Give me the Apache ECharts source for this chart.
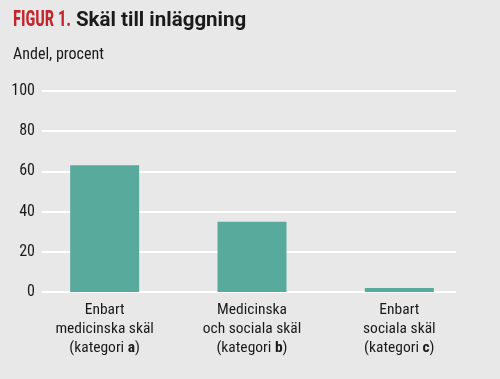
<!DOCTYPE html>
<html><head><meta charset="utf-8">
<script src="https://cdn.jsdelivr.net/npm/echarts@6/dist/echarts.min.js"></script>
<style>html,body{margin:0;padding:0;background:#e8e8e8}#c{width:500px;height:379px}</style>
</head><body><div id="c"></div>
<script>
const categories = ['Enbart\nmedicinska skäl\n(kategori {b|a})', 'Medicinska\noch sociala skäl\n(kategori {b|b})', 'Enbart\nsociala skäl\n(kategori {b|c})'];
const values = [63, 35, 2];
const yTicks = [0, 20, 40, 60, 80, 100];
const NARROW = '"Liberation Sans Narrow", "Roboto Condensed", Roboto, sans-serif';
const chart = echarts.init(document.getElementById('c'));
chart.setOption({
  backgroundColor: '#e8e8e8',
  animation: false,
  graphic: [{
    type: 'text', x: 13, y: 9, scaleX: 0.76,
    style: { text: 'FIGUR 1.', font: 'bold 22px ' + NARROW, fill: '#c1272d', textVerticalAlign: 'top' }
  }, {
    type: 'text', x: 76, y: 10,
    style: { text: 'Skäl till inläggning', font: 'bold 20.5px Roboto, "Liberation Sans", sans-serif', fill: '#1a1a1a', textVerticalAlign: 'top' }
  }, {
    type: 'text', x: 13, y: 47,
    style: { text: 'Andel, procent', font: '16px ' + NARROW, fill: '#1a1a1a', textVerticalAlign: 'top' }
  }],
  grid: [
    { left: 31, right: 27, top: 91, bottom: 87 },
    { left: 42, right: 44, top: 91, bottom: 87 }
  ],
  xAxis: [{
    gridIndex: 0, type: 'category', data: categories,
    axisLine: { show: false }, axisTick: { show: false },
    axisLabel: {
      interval: 0, margin: 9, fontFamily: NARROW, fontSize: 15.5, color: '#1a1a1a', lineHeight: 19,
      rich: { b: { fontFamily: NARROW, fontWeight: 'bold', fontSize: 15.5, color: '#1a1a1a', lineHeight: 19 } }
    }
  }, {
    gridIndex: 1, type: 'category', data: categories, show: false
  }],
  yAxis: [{
    gridIndex: 0, type: 'value', min: 0, max: 100, interval: 20, show: false
  }, {
    gridIndex: 1, type: 'value', min: 0, max: 100, interval: 20,
    axisLine: { show: false }, axisTick: { show: false },
    axisLabel: { margin: 7, fontFamily: NARROW, fontSize: 16, color: '#1a1a1a',
      formatter: v => yTicks.includes(v) ? String(v) : '' },
    splitLine: { lineStyle: { color: '#ffffff', width: 2 } }
  }],
  series: [{
    type: 'bar', xAxisIndex: 0, yAxisIndex: 0, data: values,
    barWidth: 69, itemStyle: { color: '#58aa9c' }, z: 3
  }]
});
</script></body></html>
